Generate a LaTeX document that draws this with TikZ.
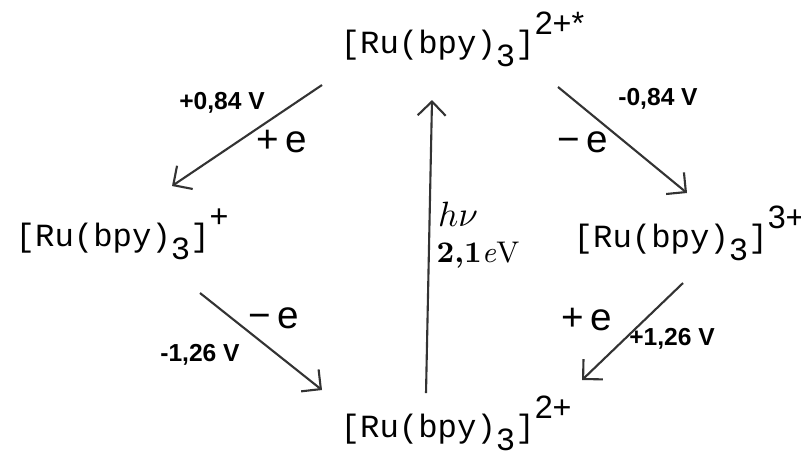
\documentclass[tikz,border=0pt]{standalone}
\usepackage{fontspec}
\setsansfont{Liberation Sans}
\setmonofont{Liberation Mono}
\usetikzlibrary{arrows.meta}

\newcommand{\rubpy}[1]{[Ru(bpy)\raisebox{-0.42em}{3}]\raisebox{0.58em}{\sffamily #1}}

\begin{document}
\begin{tikzpicture}[
	%scale=1,
	cplx/.style={ anchor=base west, inner sep=0pt, font=\ttfamily\fontsize{9.2}{11}\selectfont },
	elab/.style={ inner sep=0pt, font=\sffamily\fontsize{11}{13}\selectfont },
	vlab/.style={ inner sep=0pt, font=\sffamily\bfseries\fontsize{7}{8}\selectfont },
	etr/.style={ semithick, draw=black!80, -{Straight Barb[length=1.4mm,width=2.8mm]} }
]
\useasboundingbox (0,0) rectangle (8.01,4.52);

% the four states
\node at (3.40,3.99) (exc) [cplx] {\rubpy{2+*}};
\node at (0.15,2.06) (red) [cplx] {\rubpy{+}};
\node at (5.73,2.05) (oxi) [cplx] {\rubpy{3+}};
\node at (3.40,0.15) (gnd) [cplx] {\rubpy{2+}};

% ends of the arrows
\coordinate (a1) at (3.22,3.67); \coordinate (b1) at (1.72,2.66);
\coordinate (a2) at (5.58,3.65); \coordinate (b2) at (6.87,2.59);
\coordinate (a3) at (4.26,0.59); \coordinate (b3) at (4.32,3.52);
\coordinate (a4) at (2.00,1.59); \coordinate (b4) at (3.22,0.62);
\coordinate (a5) at (6.83,1.69); \coordinate (b5) at (5.82,0.72);
\foreach \i in {1,...,5} \draw[etr] (a\i) to (b\i);

% electron transfer labels
\node at (2.82,3.10) (e1) [elab] {+\,e};
\node at (5.83,3.10) (e2) [elab] {−\,e};
\node at (2.74,1.34) (e4) [elab] {−\,e};
\node at (5.87,1.32) (e5) [elab] {+\,e};

% potentials
\node at (2.22,3.49) (v1) [vlab] {+0,84 V};
\node at (6.58,3.53) (v2) [vlab] {-0,84 V};
\node at (2.00,0.97) (v4) [vlab] {-1,26 V};
\node at (6.72,1.13) (v5) [vlab] {+1,26 V};

% excitation
\node at (4.58,2.38) (hv) [inner sep=0pt, font=\fontsize{10}{12}\selectfont] {$h\nu$};
\node at (4.78,1.97) (ev) [inner sep=0pt, font=\fontsize{8.5}{10}\selectfont] {\textbf{2,1}\textit{e}V};

\end{tikzpicture}
\end{document}
